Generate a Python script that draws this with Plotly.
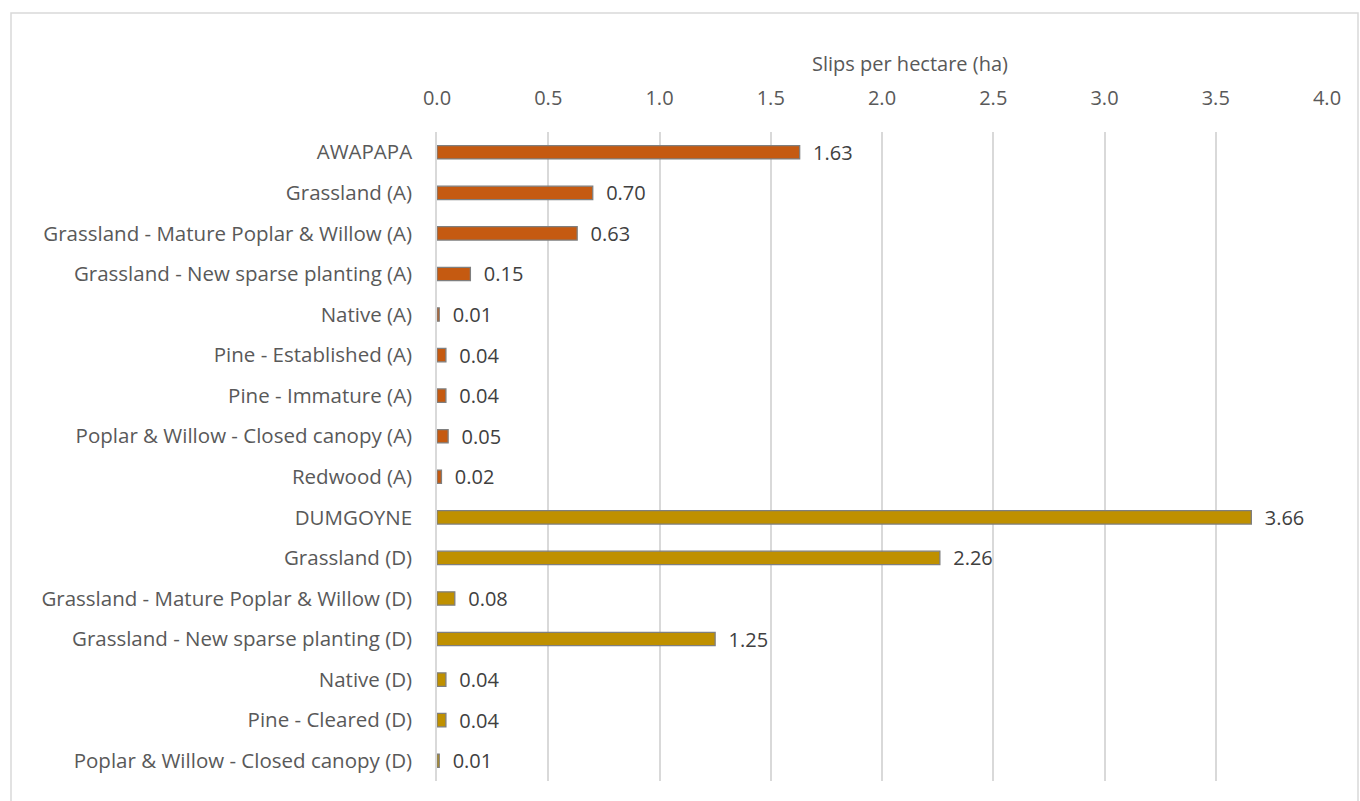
import plotly.graph_objects as go

categories = [
    "AWAPAPA", "Grassland (A)", "Grassland - Mature Poplar & Willow (A)",
    "Grassland - New sparse planting (A)", "Native (A)", "Pine - Established (A)",
    "Pine - Immature (A)", "Poplar & Willow - Closed canopy (A)", "Redwood (A)",
    "DUMGOYNE", "Grassland (D)", "Grassland - Mature Poplar & Willow (D)",
    "Grassland - New sparse planting (D)", "Native (D)", "Pine - Cleared (D)",
    "Poplar & Willow - Closed canopy (D)",
]
values = [1.63, 0.70, 0.63, 0.15, 0.01, 0.04, 0.04, 0.05, 0.02,
          3.66, 2.26, 0.08, 1.25, 0.04, 0.04, 0.01]
groups = ["A"] * 9 + ["D"] * 7
tick_vals = [0.0, 0.5, 1.0, 1.5, 2.0, 2.5, 3.0, 3.5, 4.0]
axis_title = "Slips per hectare (ha)"

group_colors = {"A": "#C55A11", "D": "#BF9000"}
colors = [group_colors[g] for g in groups]

FONT = "Open Sans"
fig = go.Figure(go.Bar(
    y=categories, x=values, orientation="h",
    marker=dict(color=colors, line=dict(color="#7F7F7F", width=1.3)),
    width=0.33,
    text=["\u00a0\u00a0" + f"{v:.2f}" for v in values], textposition="outside",
    constraintext="none",
    textfont=dict(size=20, color="#404040", family=FONT),
    cliponaxis=False,
))

W, H = 1360, 801
L, R, T, B = 437, 33, 132, 20
pw, ph = W - L - R, H - T - B

fig.update_layout(
    width=W, height=H,
    margin=dict(l=L, r=R, t=T, b=B),
    paper_bgcolor="white", plot_bgcolor="white",
    font=dict(family=FONT, size=20, color="#595959"),
    showlegend=False,
    xaxis=dict(
        side="top", range=[0, 4.0], tickvals=tick_vals,
        ticktext=[f"{t:.1f}" for t in tick_vals],
        showgrid=True, gridcolor="#D9D9D9", gridwidth=1.5,
        zeroline=False, showline=False, ticks="",
        tickfont=dict(size=20, color="#595959"),
        ticklabelstandoff=22,
    ),
    yaxis=dict(
        autorange="reversed", showgrid=False, ticks="",
        showline=True, linecolor="#D9D9D9", linewidth=1.5,
        tickfont=dict(size=20.5, color="#595959"), ticklabelstandoff=19,
    ),
    annotations=[dict(
        text=axis_title, xref="paper", yref="paper",
        x=(910 - L) / pw, y=(H - B - 64) / ph, showarrow=False,
        xanchor="center", yanchor="middle",
        font=dict(size=20, color="#595959", family=FONT),
    )],
    shapes=[dict(
        type="rect", xref="paper", yref="paper",
        x0=(11 - L) / pw, x1=(1358 - L) / pw,
        y0=(H - B - 802) / ph, y1=(H - B - 13) / ph,
        line=dict(color="#D9D9D9", width=1.5), fillcolor="rgba(0,0,0,0)",
        layer="below",
    )],
)

fig.write_html("out.html")
